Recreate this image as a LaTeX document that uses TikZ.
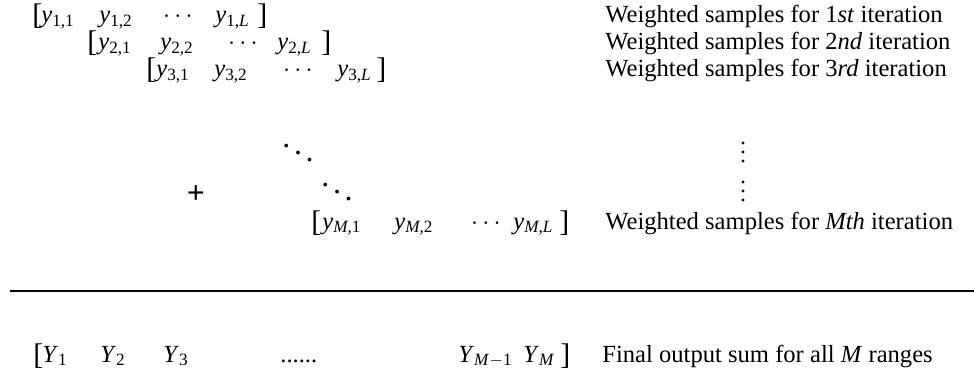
\documentclass[tikz,border=0pt]{standalone}
\usepackage{fontspec}
\setmainfont{Liberation Serif}
\usepackage{tikz}
\usetikzlibrary{positioning,calc}

\newcommand{\ys}[1]{\textit{y}\textsubscript{#1}}
\newcommand{\Ys}[1]{\textit{Y}\textsubscript{#1}}

\tikzset{
	entry/.style={anchor=base west,inner sep=0pt,font=\fontsize{14}{16}\selectfont},
	brack/.style={anchor=base west,inner sep=0pt,font=\fontsize{17}{19}\selectfont},
	cdot/.style={anchor=base,inner sep=0pt,font=\fontsize{14}{16}\selectfont},
	dotsnode/.style={inner sep=0pt,font=\fontsize{14}{16}\selectfont},
}

\begin{document}
\begin{tikzpicture}[x=0.02cm,y=-0.02cm]
	\useasboundingbox (0,0) rectangle (974,375);
	
	% first iteration
	\node[brack] (o1) at (32,25) {[};
	\node[entry] (y11) at (41,23) {\ys{1,1}};
	\node[entry] (y12) at (99,23) {\ys{1,2}};
	\node[cdot] (c1) at (178,23) {$\cdots$};
	\node[entry] (y1L) at (215,23) {\ys{1,\textit{L}}};
	\node[brack] (e1) at (257,25) {]};
	\node[entry] (lab1) at (605,23) {Weighted samples for 1\textit{st} iteration};
	
	% second iteration
	\node[brack] (o2) at (87,52) {[};
	\node[entry] (y21) at (98,50) {\ys{2,1}};
	\node[entry] (y22) at (160,50) {\ys{2,2}};
	\node[cdot] (c2) at (243,50) {$\cdots$};
	\node[entry] (y2L) at (277,50) {\ys{2,\textit{L}}};
	\node[brack] (e2) at (321,52) {]};
	\node[entry] (lab2) at (605,50) {Weighted samples for 2\textit{nd} iteration};
	
	% third iteration
	\node[brack] (o3) at (146,79) {[};
	\node[entry] (y31) at (156,77) {\ys{3,1}};
	\node[entry] (y32) at (214,77) {\ys{3,2}};
	\node[cdot] (c3) at (298,77) {$\cdots$};
	\node[entry] (y3L) at (337,77) {\ys{3,\textit{L}}};
	\node[brack] (e3) at (376,79) {]};
	\node[entry] (lab3) at (605,77) {Weighted samples for 3\textit{rd} iteration};
	
	% skipped iterations
	\node[dotsnode,scale=1.3] (dd1) at (298,146) {$\ddots$};
	\node[dotsnode,scale=1.3] (dd2) at (337,185) {$\ddots$};
	\foreach \yy in {143,152,161,182,191,200}
		\fill (743,\yy) circle (1.6);
	\node[dotsnode,font=\fontsize{18}{20}\selectfont] (plus) at (196,195) {\textbf{+}};
	
	% Mth iteration
	\node[brack] (oM) at (311,231) {[};
	\node[entry] (yM1) at (322,229) {\ys{\textit{M},1}};
	\node[entry] (yM2) at (394,229) {\ys{\textit{M},2}};
	\node[cdot] (cM) at (486,229) {$\cdots$};
	\node[entry] (yML) at (513,229) {\ys{\textit{M},\textit{L}}};
	\node[brack] (eM) at (559,231) {]};
	\node[entry] (labM) at (605,229) {Weighted samples for \textit{Mth} iteration};
	
	% sum line
	\coordinate (ruleL) at (10,291);
	\coordinate (ruleR) at (974,291);
	\draw[line width=1.1pt] (ruleL) -- (ruleR);
	
	% final output
	\node[brack] (oS) at (33,364) {[};
	\node[entry] (Y1) at (42,362) {\Ys{1}};
	\node[entry] (Y2) at (100,362) {\Ys{2}};
	\node[entry] (Y3) at (163,362) {\Ys{3}};
	\node[entry] (dS) at (280,362) {......};
	\node[entry] (YM1) at (458,362) {\Ys{\textit{M}$-$1}};
	\node[entry] (YM) at (523,362) {\Ys{\textit{M}}};
	\node[brack] (eS) at (560,364) {]};
	\node[entry] (labS) at (602,362) {Final output sum for all \textit{M} ranges};
\end{tikzpicture}
\end{document}
